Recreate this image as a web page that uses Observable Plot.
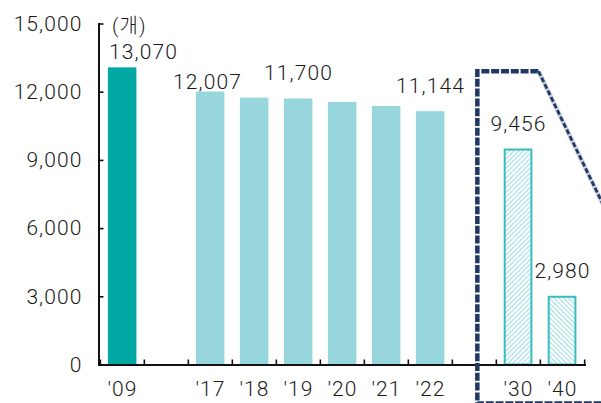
<!DOCTYPE html>
<html>
<head>
<meta charset="utf-8">
<script src="https://cdn.jsdelivr.net/npm/d3@7"></script>
<script src="https://cdn.jsdelivr.net/npm/@observablehq/plot@0.6"></script>
<style>
  html, body { margin: 0; padding: 0; background: #fff; overflow: hidden; }
  #chart svg { display: block; }
  #chart svg text { letter-spacing: 1.1px; font-weight: 300; }
</style>
</head>
<body>
<!-- hatch fills for the projected years -->
<svg width="0" height="0" style="position:absolute">
  <defs>
    <pattern id="hatch-rise" patternUnits="userSpaceOnUse" width="3.4" height="3.4" patternTransform="rotate(45)">
      <rect width="3.4" height="3.4" fill="#ffffff"></rect>
      <rect width="1.5" height="3.4" fill="#b8e4e7"></rect>
    </pattern>
    <pattern id="hatch-fall" patternUnits="userSpaceOnUse" width="3.4" height="3.4" patternTransform="rotate(-45)">
      <rect width="3.4" height="3.4" fill="#ffffff"></rect>
      <rect width="1.5" height="3.4" fill="#b8e4e7"></rect>
    </pattern>
  </defs>
</svg>
<div id="chart"></div>
<script>
// Number of establishments by year (개)
const years = ["'09", "'17", "'18", "'19", "'20", "'21", "'22", "'30", "'40"];
const counts = [13070, 12007, 11740, 11700, 11550, 11370, 11144, 9456, 2980];
const kinds = ["base", "actual", "actual", "actual", "actual", "actual", "actual", "forecast", "forecast"];
const labeledYears = ["'09", "'17", "'19", "'22", "'30", "'40"];
const yTicks = [0, 3000, 6000, 9000, 12000, 15000];
const unitLabel = "(개)";

// x bands, with empty spacer bands between the periods
const xDomain = ["'09", "gap-a", "'17", "'18", "'19", "'20", "'21", "'22", "gap-b", "'30", "'40"];

const rows = years.map((year, i) => ({year, count: counts[i], kind: kinds[i]}));
const labels = rows.filter(d => labeledYears.includes(d.year));

const W = 601, H = 403;
const mLeft = 98.5, mRight = 15, mTop = 23.5, mBottom = 38.5;
const halfStep = (W - mLeft - mRight) / xDomain.length / 2;
const font = "Roboto, 'Liberation Sans', Arial, 'Noto Sans CJK KR', sans-serif";
const fmt = d3.format(",");

const fills = {base: "#00a8a3", actual: "#97d6db"};
const hatch = {"'30": "url(#hatch-rise)", "'40": "url(#hatch-fall)"};

// dashed outlook frame around the projected years, in (band, fraction, value) terms:
// bottom-right, bottom-left, top-left, top-right corners
const outlook = [
  {band: "'40", at: 3.66, value: -1720},
  {band: "gap-b", at: 0.61, value: -1720},
  {band: "gap-b", at: 0.61, value: 12900},
  {band: "'40", at: 0.0, value: 12900}
];

function outlookMark(index, scales) {
  const x = scales.x, y = scales.y;
  const step = x.step();
  const x0 = x.range()[0];
  const pt = d => [x0 + (xDomain.indexOf(d.band) + d.at) * step, y(d.value)];
  const ns = "http://www.w3.org/2000/svg";
  const g = document.createElementNS(ns, "g");
  const seg = (pts, attrs) => {
    const p = d3.path();
    pts.forEach((q, i) => i ? p.lineTo(...q) : p.moveTo(...q));
    const el = document.createElementNS(ns, "path");
    el.setAttribute("d", p.toString());
    el.setAttribute("fill", "none");
    for (const [k, v] of Object.entries(attrs)) el.setAttribute(k, v);
    g.appendChild(el);
  };
  const P = outlook.map(pt);
  // box sides
  seg(P, {stroke: "#1f3864", "stroke-width": 4.5, "stroke-dasharray": "8 1.8", "stroke-linejoin": "miter"});
  // slanted side: soft halo under a finer dash
  seg([P[3], P[0]], {stroke: "#aeb6c8", "stroke-width": 4.5, "stroke-opacity": 0.6});
  seg([P[3], P[0]], {stroke: "#1f3864", "stroke-width": 2.8, "stroke-dasharray": "5 2.2"});
  return g;
}

const actual = rows.filter(d => d.kind !== "forecast");
const forecast = rows.filter(d => d.kind === "forecast");

const labelMark = (subset, opts) => Plot.text(subset, {
  x: "year", y: "count", text: d => fmt(d.count),
  fontSize: 21, fill: "#1a1a1a", lineAnchor: "middle", ...opts
});

const plot = Plot.plot({
  width: W, height: H,
  marginLeft: mLeft, marginRight: mRight, marginTop: mTop, marginBottom: mBottom,
  style: {fontFamily: font, color: "#1a1a1a", background: "#fff"},
  x: {domain: xDomain, padding: 0, label: null},
  y: {domain: [0, 15000], label: null},
  marks: [
    Plot.barY(actual, {x: "year", y: "count", fill: d => fills[d.kind], insetLeft: 7.9, insetRight: 7.6}),
    Plot.barY(forecast, {x: "year", y: "count", fill: d => hatch[d.year], stroke: "#3bbcbc", strokeWidth: 2, insetLeft: 8.7, insetRight: 8.6}),
    Plot.ruleY([0], {stroke: "#111", strokeWidth: 2}),
    Plot.frame({anchor: "left", stroke: "#111", strokeWidth: 2}),
    // inward ticks on the value axis
    Plot.axisY({ticks: yTicks, tickSize: 5, dx: 5, tickFormat: () => "", label: null, stroke: "#111", strokeWidth: 1.6}),
    Plot.axisY({ticks: yTicks, tickSize: 0, tickPadding: 16.5, tickFormat: fmt, label: null, fontSize: 21}),
    // inward ticks at band boundaries
    Plot.axisX({ticks: xDomain, tickSize: 5, dy: -5, dx: -halfStep, tickFormat: () => "", label: null, stroke: "#111", strokeWidth: 1.6}),
    Plot.axisX({ticks: [xDomain[xDomain.length - 1]], tickSize: 5, dy: -5, dx: halfStep, tickFormat: () => "", label: null, stroke: "#111", strokeWidth: 1.6}),
    Plot.axisX({ticks: years, tickSize: 0, tickPadding: 16, label: null, fontSize: 21}),
    labelMark(labels.filter(d => d.year === "'09"), {dx: 21, dy: -15.5}),
    labelMark(labels.filter(d => d.year === "'17"), {dx: -3, dy: -9.5}),
    labelMark(labels.filter(d => d.year !== "'09" && d.year !== "'17"), {dy: -25.5}),
    Plot.text([unitLabel], {frameAnchor: "top-left", dx: 13, dy: 3, textAnchor: "start", lineAnchor: "middle", fontSize: 20, fill: "#1a1a1a"}),
    outlookMark
  ]
});

document.getElementById("chart").append(plot);
</script>
</body>
</html>
